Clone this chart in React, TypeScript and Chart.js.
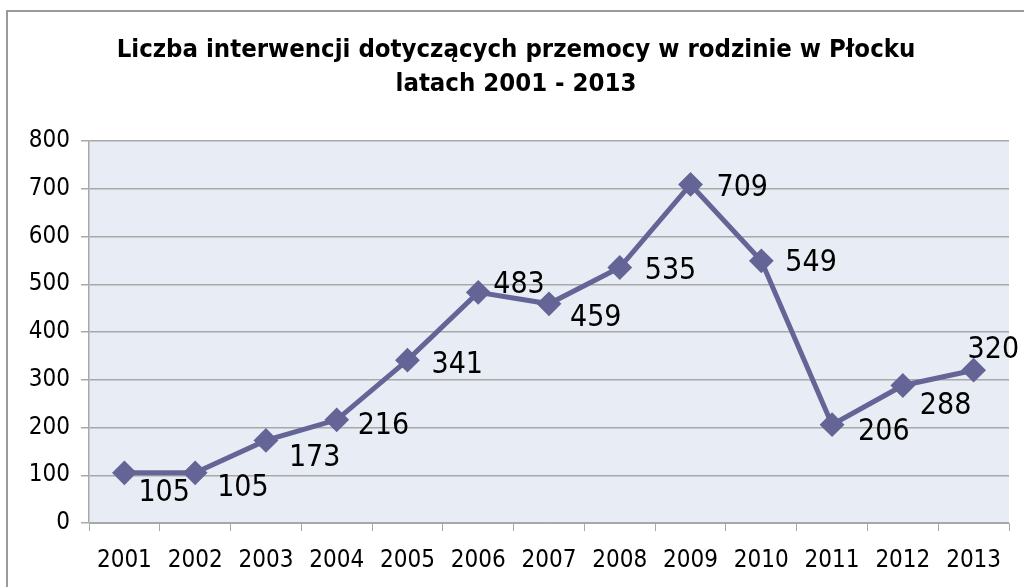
import React, { useEffect, useRef } from 'react';
import { Chart, registerables } from 'chart.js';

Chart.register(...registerables);

const years = ['2001', '2002', '2003', '2004', '2005', '2006', '2007', '2008', '2009', '2010', '2011', '2012', '2013'];
const interventions = [105, 105, 173, 216, 341, 483, 459, 535, 709, 549, 206, 288, 320];
const titleLines = ['Liczba interwencji dotyczących przemocy w rodzinie w Płocku', 'latach 2001 - 2013'];
const yMin = 0;
const yMax = 800;
const yStep = 100;
// label nudges (style only): left edge offset and vertical-centre offset from each point
const labelDx = [14, 22, 23, 21, 24, 15, 21, 25, 26, 24, 26, 17, -6];
const labelDy = [17, 12, 15, 3, 2, -10, 11, 0, 1, -1, 4, 18, -23];

const FONT = "'DejaVu Sans Condensed', 'DejaVu Sans', sans-serif";
const LINE_COLOR = '#646496';
const GRID_COLOR = '#a8a8a8';

const framePlugin = {
  id: 'frame',
  beforeDraw(chart: any) {
    const { ctx, chartArea, width, height } = chart;
    ctx.save();
    ctx.fillStyle = '#ffffff';
    ctx.fillRect(0, 0, width, height);
    ctx.strokeStyle = '#9a9a9a';
    ctx.lineWidth = 2;
    ctx.beginPath();
    ctx.moveTo(7, height + 5);
    ctx.lineTo(7, 11);
    ctx.lineTo(width + 5, 11);
    ctx.stroke();
    ctx.fillStyle = '#e8ecf4';
    ctx.fillRect(chartArea.left, chartArea.top, chartArea.right - chartArea.left, chartArea.bottom - chartArea.top);
    // title
    ctx.fillStyle = '#000000';
    ctx.font = `bold 25.5px ${FONT}`;
    ctx.textAlign = 'center';
    ctx.textBaseline = 'alphabetic';
    ctx.fillText(titleLines[0], 516, 57);
    ctx.fillText(titleLines[1], 516, 91);
    ctx.restore();
  },
};

const labelPlugin = {
  id: 'valueLabels',
  afterDatasetsDraw(chart: any) {
    const { ctx } = chart;
    const meta = chart.getDatasetMeta(0);
    const values = chart.data.datasets[0].data as number[];
    ctx.save();
    ctx.fillStyle = '#000000';
    ctx.font = `30px ${FONT}`;
    ctx.textAlign = 'left';
    ctx.textBaseline = 'alphabetic';
    meta.data.forEach((pt: any, i: number) => {
      const x = pt.x + labelDx[i];
      const y = pt.y + labelDy[i] + 11;
      ctx.fillText(String(values[i]), x, y);
    });
    ctx.restore();
  },
};

export default function App() {
  const canvasRef = useRef<HTMLCanvasElement | null>(null);

  useEffect(() => {
    if (!canvasRef.current) return;
    const chart = new Chart(canvasRef.current, {
      type: 'line',
      data: {
        labels: years,
        datasets: [
          {
            data: interventions,
            borderColor: LINE_COLOR,
            backgroundColor: LINE_COLOR,
            borderWidth: 5,
            pointStyle: 'rectRot',
            pointRadius: 11,
            pointBorderWidth: 2,
            pointBackgroundColor: LINE_COLOR,
            pointBorderColor: LINE_COLOR,
            tension: 0,
            fill: false,
            clip: false as any,
          },
        ],
      },
      options: {
        responsive: false,
        animation: false,
        devicePixelRatio: 1,
        layout: { padding: { top: 141, right: 15, left: 0, bottom: 0 } },
        plugins: {
          legend: { display: false },
          title: { display: false },
          tooltip: { enabled: false },
        },
        scales: {
          x: {
            type: 'category',
            offset: true,
            grid: {
              offset: true,
              drawOnChartArea: false,
              drawTicks: true,
              tickLength: 8,
              color: GRID_COLOR,
              lineWidth: 1,
            },
            border: { display: true, color: GRID_COLOR, width: 1 },
            ticks: {
              color: '#000000',
              font: { family: FONT, size: 24 },
              padding: 15,
              maxRotation: 0,
              autoSkip: false,
            },
            afterFit: (s: any) => {
              s.height = 64;
            },
          },
          y: {
            min: yMin,
            max: yMax,
            grid: {
              color: GRID_COLOR,
              lineWidth: 1.5,
              tickLength: 8,
            },
            border: { display: true, color: GRID_COLOR, width: 1.5 },
            ticks: {
              stepSize: yStep,
              color: '#000000',
              font: { family: FONT, size: 24 },
              padding: 11,
            },
            afterFit: (s: any) => {
              s.width = 89;
            },
          },
        },
      },
      plugins: [framePlugin, labelPlugin],
    });
    return () => chart.destroy();
  }, []);

  return (
    <div style={{ position: 'absolute', left: 0, top: 0, width: 1024, height: 587, overflow: 'hidden' }}>
      <canvas ref={canvasRef} width={1024} height={587} style={{ width: 1024, height: 587, display: 'block' }} />
    </div>
  );
}
